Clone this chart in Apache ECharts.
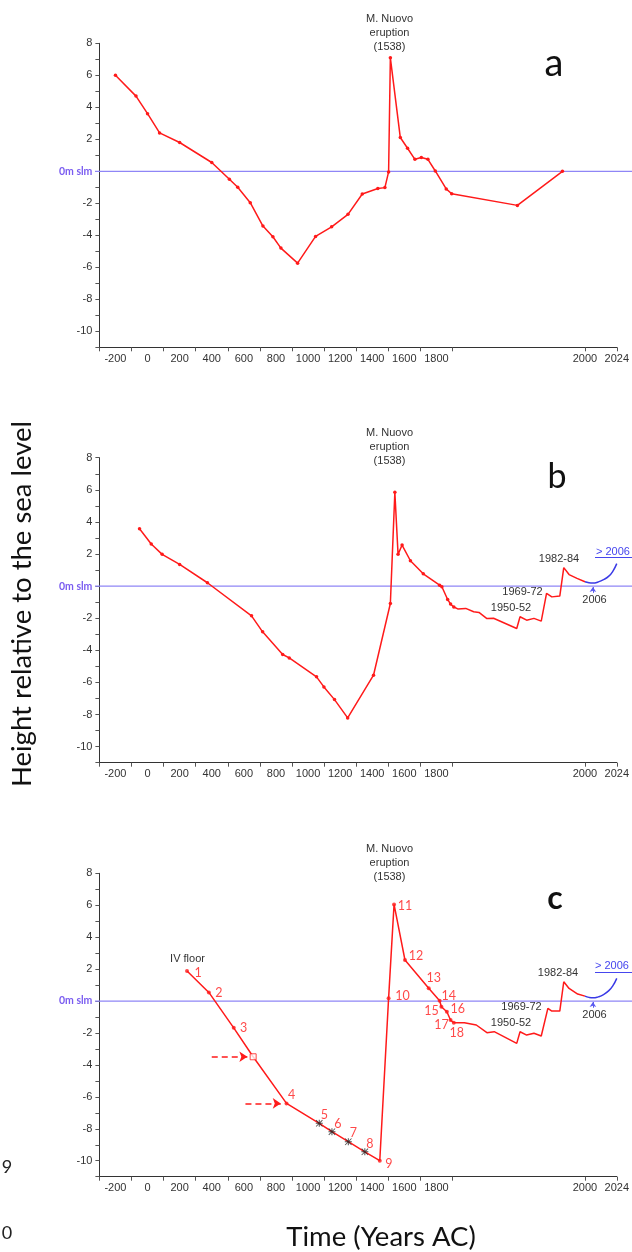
<!DOCTYPE html>
<html>
<head>
<meta charset="utf-8">
<script src="https://cdn.jsdelivr.net/npm/echarts@6/dist/echarts.min.js"></script>
<style>
html,body{margin:0;padding:0;background:#fff;}
#chart{width:632px;height:1252px;}
</style>
</head>
<body>
<div id="chart"></div>
<script>
// ---------------- DATA ----------------
const xLabelYears = [-200, 0, 200, 400, 600, 800, 1000, 1200, 1400, 1600, 1800, 2000, 2024];
const xTickYears = [-300, -100, 100, 300, 500, 700, 900, 1100, 1300, 1500, 1700, 1900, 2000, 2024];
const yLabelValues = [-10, -8, -6, -4, -2, 0, 2, 4, 6, 8];
const yTickValues = [-11,-10,-9,-8,-7,-6,-5,-4,-3,-2,-1,0,1,2,3,4,5,6,7,8];
const seaLevel = 0;

// panel a
const aYears   = [-200, -72, 0, 75, 200, 400, 510, 562, 640, 719, 781, 831, 935, 1047, 1147, 1249, 1338, 1435, 1479, 1502, 1513, 1575, 1620, 1666, 1706, 1747, 1793, 1861, 1895, 1949, 1983];
const aHeights = [6.0, 4.7, 3.6, 2.4, 1.8, 0.55, -0.5, -1.0, -1.96, -3.42, -4.09, -4.8, -5.74, -4.07, -3.47, -2.69, -1.42, -1.08, -1.02, -0.04, 7.09, 2.11, 1.44, 0.75, 0.86, 0.75, 0.02, -1.1, -1.4, -2.13, 0];

// panel b
const bYears   = [-50, 23, 91, 200, 373, 648, 717, 842, 883, 1053, 1099, 1165, 1247, 1408, 1513, 1541, 1561, 1586, 1638, 1718, 1820, 1834, 1870, 1888, 1901];
const bHeights = [3.57, 2.62, 1.98, 1.35, 0.21, -1.85, -2.85, -4.26, -4.47, -5.65, -6.28, -7.07, -8.21, -5.55, -1.08, 5.84, 1.98, 2.56, 1.58, 0.77, 0.06, -0.04, -0.83, -1.12, -1.3];
const bRecentYears   = [1901, 1904, 1910, 1916, 1920, 1926, 1931, 1948.5, 1951, 1956, 1961.5, 1967, 1971, 1975, 1981, 1984, 1988, 1994, 2000];
const bRecentHeights = [-1.3, -1.42, -1.39, -1.6, -1.64, -2.02, -2.0, -2.64, -1.91, -2.12, -2.01, -2.18, -0.45, -0.67, -0.62, 1.15, 0.72, 0.48, 0.27];
const bFutureYears   = [2000, 2003, 2006, 2010, 2014, 2018, 2021, 2024];
const bFutureHeights = [0.27, 0.21, 0.19, 0.26, 0.4, 0.62, 0.92, 1.4];

// panel c
const cYears   = [246, 382, 537, 658, 866, 1070, 1149, 1251, 1354, 1447, 1502, 1536, 1604, 1752, 1820, 1831, 1865, 1888, 1901];
const cHeights = [1.88, 0.54, -1.68, -3.49, -6.41, -7.66, -8.18, -8.81, -9.44, -10.0, 0.17, 6.05, 2.57, 0.8, 0.02, -0.36, -0.67, -1.19, -1.36];
const cPointNames = ['1', '2', '3', '', '4', '5', '6', '7', '8', '9', '10', '11', '12', '13', '14', '15', '16', '17', '18'];
const cRecentYears   = [1901, 1909, 1918, 1926, 1931.5, 1948.5, 1951, 1956, 1961.5, 1967, 1972, 1975, 1981, 1984, 1988, 1994.5, 2000];
const cRecentHeights = [-1.36, -1.36, -1.5, -1.98, -1.92, -2.65, -1.92, -2.13, -2.02, -2.19, -0.46, -0.63, -0.63, 1.21, 0.79, 0.44, 0.31];
const cFutureYears   = [2000, 2003, 2006, 2010, 2014, 2018, 2021, 2024];
const cFutureHeights = [0.31, 0.23, 0.2, 0.26, 0.4, 0.65, 0.95, 1.42];
const cArrowStartYears = [400, 610];
const cArrowEndYears   = [622, 830];
const cArrowHeights    = [-3.49, -6.41];
const arrow2006 = { year: 2006, from: -0.42, to: -0.06 };

// ---------------- STYLE (not data) ----------------
const cPointKinds = ['dot','dot','dot','square','dot','star','star','star','star','dot','dot','dot','dot','dot','dot','dot','dot','dot','dot'];
const cLabelOffsets = [[11,2],[10,1],[10,0],[0,0],[5,-8],[5,-8],[6,-8],[5,-9],[5,-8],[9,3],[14,-2],[11,2],[11,-4],[5,-10],[9,-5],[-10,4],[11,-3],[-9,5],[3,10]];

const RED = '#ff1a1a';
const BLUE_LINE = '#8f86f6';
const BLUE_DARK = '#3a3ae6';
const TXT = '#333';
const ARIAL = '"Liberation Sans", Arial, sans-serif';
const CAL = 'Lato, "Open Sans", sans-serif';

// broken x axis: linear to 1900, stretched afterwards
const K = 8.256;
function T(y) { return y <= 1900 ? y : 1900 + (y - 1900) * K; }
function Tinv(v) { return v <= 1900 ? v : 1900 + (v - 1900) / K; }
const xMin = -300, xMax = T(2024);

const panels = [
  { top: 43.3, height: 304 },
  { top: 457.7, height: 305 },
  { top: 873.3, height: 303.4 }
];

const grids = [], xAxes = [], yAxes = [], series = [];
panels.forEach((p, i) => {
  grids.push({ left: 99.4, top: p.top, width: 517.6, height: p.height });
  xAxes.push({
    type: 'value', gridIndex: i, min: xMin, max: xMax,
    axisLine: { show: true, onZero: false, lineStyle: { color: '#333', width: 1 } },
    axisTick: { show: true, length: 4, customValues: xTickYears.map(T), lineStyle: { color: '#555' } },
    axisLabel: {
      customValues: xLabelYears.map(T), margin: 6,
      formatter: v => String(Math.round(Tinv(v))),
      color: TXT, fontSize: 11, fontFamily: ARIAL
    },
    splitLine: { show: false }
  });
  yAxes.push({
    type: 'value', gridIndex: i, min: -11, max: 8,
    axisLine: { show: true, onZero: false, lineStyle: { color: '#333', width: 1 } },
    axisTick: { show: true, length: 4, customValues: yTickValues, lineStyle: { color: '#555' } },
    axisLabel: {
      customValues: yLabelValues, margin: 7,
      formatter: v => v === seaLevel ? '{z|0m slm}' : String(v),
      color: TXT, fontSize: 11, fontFamily: ARIAL,
      rich: { z: { color: '#7a5cf0', fontWeight: 'bold', fontSize: 10.5, fontFamily: CAL } }
    },
    splitLine: { show: false }
  });
});
// wide grids for the sea-level line that runs to the page edge
panels.forEach((p, i) => {
  grids.push({ left: 95, right: 0, top: p.top, height: p.height });
  xAxes.push({ type: 'value', gridIndex: 3 + i, min: 0, max: 1, show: false });
  yAxes.push({ type: 'value', gridIndex: 3 + i, min: -11, max: 8, show: false });
  series.push({
    type: 'line', xAxisIndex: 3 + i, yAxisIndex: 3 + i, silent: true, z: 1,
    data: [[0, seaLevel], [1, seaLevel]], symbol: 'none',
    lineStyle: { color: BLUE_LINE, width: 1.2 }
  });
});

const zip = (xs, ys) => xs.map((x, i) => [T(x), ys[i]]);

// panel a
series.push({
  type: 'line', xAxisIndex: 0, yAxisIndex: 0, z: 3,
  data: zip(aYears, aHeights), symbol: 'circle', symbolSize: 3.5, showAllSymbol: true,
  lineStyle: { color: RED, width: 1.5 }, itemStyle: { color: RED }
});

// panel b
series.push({
  type: 'line', xAxisIndex: 1, yAxisIndex: 1, z: 3,
  data: zip(bYears, bHeights), symbol: 'circle', symbolSize: 3.5, showAllSymbol: true,
  lineStyle: { color: RED, width: 1.5 }, itemStyle: { color: RED }
});
series.push({
  type: 'line', xAxisIndex: 1, yAxisIndex: 1, z: 3,
  data: zip(bRecentYears, bRecentHeights), symbol: 'none',
  lineStyle: { color: RED, width: 1.5 }
});
const arrow2006Line = {
  silent: true, symbol: ['none', 'arrow'], symbolSize: 5, label: { show: false },
  lineStyle: { color: '#5a5af0', width: 1, type: 'solid' },
  data: [[{ coord: [T(arrow2006.year), arrow2006.from] }, { coord: [T(arrow2006.year), arrow2006.to] }]]
};
series.push({
  type: 'line', xAxisIndex: 1, yAxisIndex: 1, z: 3, smooth: 0.5,
  data: zip(bFutureYears, bFutureHeights), symbol: 'none',
  lineStyle: { color: BLUE_DARK, width: 1.5 },
  markLine: arrow2006Line
});

// panel c
series.push({
  type: 'line', xAxisIndex: 2, yAxisIndex: 2, z: 3,
  data: zip(cYears, cHeights), symbol: 'none',
  lineStyle: { color: RED, width: 1.5 },
  markLine: {
    silent: true, symbol: ['none', 'arrow'], symbolSize: 8, label: { show: false },
    lineStyle: { color: RED, width: 1.5, type: [6, 4] },
    data: cArrowStartYears.map((s, i) => [{ coord: [T(s), cArrowHeights[i]] }, { coord: [T(cArrowEndYears[i]), cArrowHeights[i]] }])
  }
});
const STAR = 'path://M3,0h1v7h-1z M0,3h7v1h-7z M0.6,0L7,6.4L6.4,7L0,0.6z M6.4,0L7,0.6L0.6,7L0,6.4z';
series.push({
  type: 'scatter', xAxisIndex: 2, yAxisIndex: 2, z: 4,
  data: cYears.map((y, i) => {
    const kind = cPointKinds[i];
    const item = { value: [T(y), cHeights[i]], name: cPointNames[i] };
    if (kind === 'dot') { item.symbol = 'circle'; item.symbolSize = 4; item.itemStyle = { color: RED }; }
    else if (kind === 'square') { item.symbol = 'rect'; item.symbolSize = 6; item.itemStyle = { color: '#fff', borderColor: RED, borderWidth: 1 }; }
    else { item.symbol = STAR; item.symbolSize = 7; item.itemStyle = { color: '#222' }; }
    item.label = { show: cPointNames[i] !== '', position: 'inside', offset: cLabelOffsets[i], formatter: '{b}' };
    return item;
  }),
  label: { color: RED, fontSize: 12.5, fontFamily: CAL }
});
series.push({
  type: 'line', xAxisIndex: 2, yAxisIndex: 2, z: 3,
  data: zip(cRecentYears, cRecentHeights), symbol: 'none',
  lineStyle: { color: RED, width: 1.5 }
});
series.push({
  type: 'line', xAxisIndex: 2, yAxisIndex: 2, z: 3, smooth: 0.5,
  data: zip(cFutureYears, cFutureHeights), symbol: 'none',
  lineStyle: { color: BLUE_DARK, width: 1.5 },
  markLine: arrow2006Line
});

// ---------------- TEXT ----------------
function txt(text, x, y, opts) {
  opts = opts || {};
  return {
    type: 'text', x: x, y: y, rotation: opts.rotation || 0, z: 10, silent: true,
    style: {
      text: text, x: 0, y: 0,
      fill: opts.color || TXT,
      fontSize: opts.size || 11,
      fontFamily: opts.family || ARIAL,
      fontWeight: opts.weight || 'normal',
      textAlign: opts.align || 'center',
      textVerticalAlign: 'middle',
      lineHeight: opts.lh || 14
    }
  };
}
const graphics = [];
const eruptionTops = [33, 447, 862.5];
eruptionTops.forEach(y => graphics.push(txt('M. Nuovo\neruption\n(1538)', 389.5, y)));
graphics.push(txt('a', 554, 64, { size: 38, color: '#111', family: CAL }));
graphics.push(txt('b', 557, 477, { size: 34, color: '#111', family: CAL }));
graphics.push(txt('c', 555, 899, { size: 32, color: '#111', family: CAL, weight: 'bold' }));
// panel b labels
graphics.push(txt('1982-84', 559, 559));
graphics.push(txt('1969-72', 522.5, 591.7));
graphics.push(txt('1950-52', 511, 607.7));
graphics.push(txt('2006', 594.5, 600));
graphics.push(txt('> 2006', 613, 551.5, { color: '#4646ee', align: 'center' }));
graphics.push({ type: 'line', silent: true, shape: { x1: 595, y1: 557.5, x2: 632, y2: 557.5 }, style: { stroke: '#4646ee', lineWidth: 1 } });
// panel c labels
graphics.push(txt('IV floor', 187.5, 959));
graphics.push(txt('1982-84', 558, 973.3));
graphics.push(txt('1969-72', 521.5, 1006.7));
graphics.push(txt('1950-52', 511, 1023.3));
graphics.push(txt('2006', 594.5, 1015));
graphics.push(txt('> 2006', 612, 966, { color: '#4646ee' }));
graphics.push({ type: 'line', silent: true, shape: { x1: 595, y1: 972.5, x2: 632, y2: 972.5 }, style: { stroke: '#4646ee', lineWidth: 1 } });
// axis titles
graphics.push(txt('Height relative to the sea level', 22, 604, { size: 27.5, color: '#111', family: CAL, rotation: Math.PI / 2, lh: 30 }));
graphics.push(txt('Time (Years AC)', 381, 1237, { size: 27.5, color: '#111', family: CAL, lh: 30 }));
graphics.push(txt('9', 7, 1167, { size: 18, color: '#222', family: CAL, lh: 20 }));
graphics.push(txt('0', 7, 1233, { size: 18, color: '#222', family: CAL, lh: 20 }));

const chart = echarts.init(document.getElementById('chart'), null, { renderer: 'canvas' });
chart.setOption({
  animation: false,
  backgroundColor: '#fff',
  grid: grids, xAxis: xAxes, yAxis: yAxes, series: series,
  graphic: { elements: graphics }
});
</script>
</body>
</html>
